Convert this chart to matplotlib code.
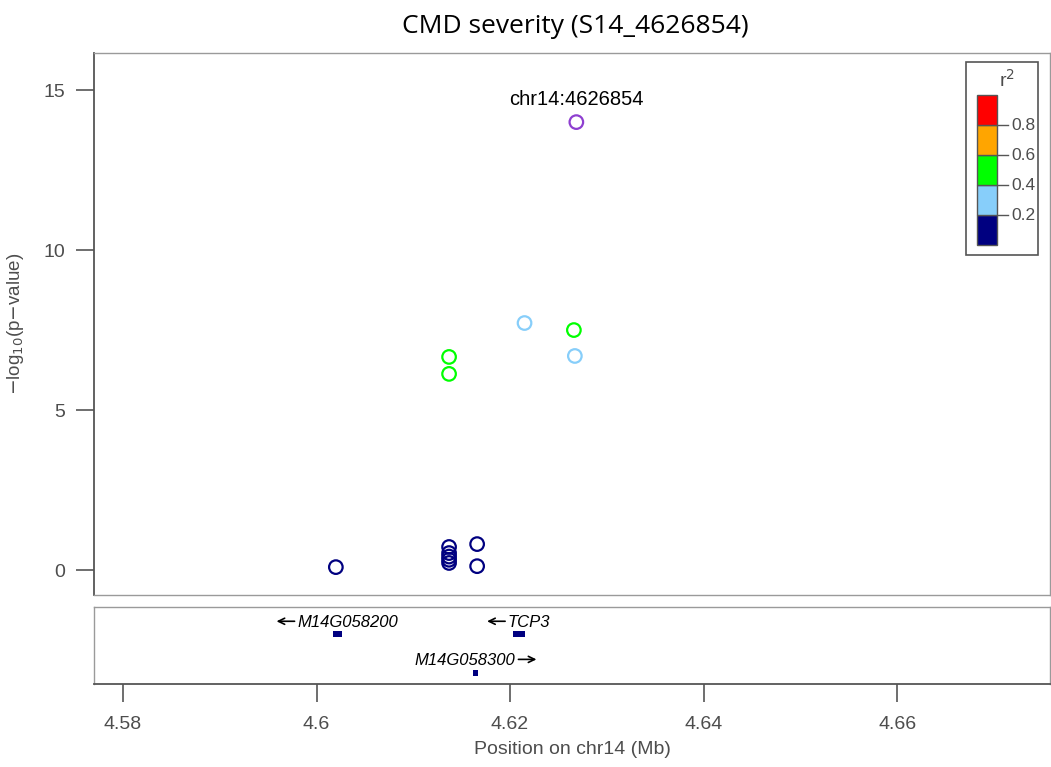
import matplotlib
matplotlib.use("Agg")
import matplotlib.pyplot as plt
from matplotlib.patches import Rectangle
from matplotlib.text import OffsetFrom
from matplotlib.transforms import ScaledTranslation

plt.rcParams['font.family'] = ['Liberation Sans', 'DejaVu Sans']

# SNP association data (position in Mb, -log10 p, LD class)
snp_pos = [4.626854, 4.6215, 4.6266, 4.6137, 4.6267, 4.6137,
           4.6020, 4.6166, 4.6166, 4.6137, 4.6137, 4.6137, 4.6137, 4.6137]
snp_logp = [14.0, 7.72, 7.50, 6.66, 6.69, 6.13,
            0.09, 0.81, 0.12, 0.72, 0.53, 0.42, 0.32, 0.22]
snp_r2 = ['lead', 0.3, 0.5, 0.5, 0.3, 0.5,
          0.1, 0.1, 0.1, 0.1, 0.1, 0.1, 0.1, 0.1]
lead_label = "chr14:4626854"

# LD colour bins
r2_breaks = [0.0, 0.2, 0.4, 0.6, 0.8, 1.0]
r2_colors = ['#000080', '#87CEFA', '#00FF00', '#FFA500', '#FF0000']
lead_color = '#8E3FD0'

# Genes: name, start, end, strand, row
gene_names = ['M14G058200', 'TCP3', 'M14G058300']
gene_start = [4.6017, 4.6203, 4.6162]
gene_end = [4.6026, 4.6215, 4.6167]
gene_strand = ['-', '-', '+']
gene_row = [0, 0, 1]

x_ticks = [4.58, 4.60, 4.62, 4.64, 4.66]
x_tick_labels = ['4.58', '4.6', '4.62', '4.64', '4.66']
y_ticks = [0, 5, 10, 15]

xlim = (4.577, 4.6758)
text_gray = '#4d4d4d'
frame_gray = '#9a9a9a'

fig = plt.figure(figsize=(10.51, 7.67), dpi=100)
ax = fig.add_axes([0.0894, 0.2243, 0.9096, 0.7066])
axg = fig.add_axes([0.0894, 0.1082, 0.9096, 0.1004])


def r2_color(v):
    if v == 'lead':
        return lead_color
    for i in range(len(r2_colors)):
        if r2_breaks[i] <= v < r2_breaks[i + 1]:
            return r2_colors[i]
    return r2_colors[-1]


colors = [r2_color(v) for v in snp_r2]
ax.scatter(snp_pos, snp_logp, s=95, facecolors='none', edgecolors=colors,
           linewidths=1.6, zorder=3)
ax.text(snp_pos[0], snp_logp[0] + 0.4, lead_label, ha='center', va='bottom',
        fontsize=14.5, color='black')

ax.set_xlim(*xlim)
ax.set_ylim(-0.78, 16.16)
ax.set_xticks([])
ax.set_yticks(y_ticks)
ax.set_yticklabels([str(t) for t in y_ticks], fontsize=14, color=text_gray)
ax.tick_params(axis='y', length=13, width=1.2, color='#555555', pad=8)
for s in ax.spines.values():
    s.set_color(frame_gray)
    s.set_linewidth(1)
ax.spines['left'].set_color('#555555')
ax.spines['left'].set_linewidth(1.3)
ax.set_ylabel(r'$-$log$_{10}$(p$-$value)', fontsize=13.5, color=text_gray,
              labelpad=12)

fig.text(575 / 1051, 0.965, 'CMD severity (S14_4626854)', ha='center',
         va='center', fontsize=19, family='Open Sans', color='black')

# r^2 legend box with colour bar
lx0, ly0 = 966 / 1051, 1 - 255 / 767
lw, lh = 72 / 1051, 193 / 767
fig.patches.append(Rectangle((lx0, ly0), lw, lh, transform=fig.transFigure,
                             facecolor='white', edgecolor='#555555', lw=1.2,
                             zorder=5))
cb_x0 = 977 / 1051
cb_w = 20 / 1051
seg_h = 30 / 767
cb_y0 = 1 - 245 / 767
for i, c in enumerate(r2_colors):
    fig.patches.append(Rectangle((cb_x0, cb_y0 + i * seg_h), cb_w, seg_h,
                                 transform=fig.transFigure, facecolor=c,
                                 edgecolor='#555555', lw=1, zorder=6))
for i, b in enumerate(r2_breaks[1:-1]):
    yy = cb_y0 + (i + 1) * seg_h
    fig.lines.append(plt.Line2D([cb_x0 + cb_w, cb_x0 + cb_w + 11 / 1051],
                                [yy, yy], transform=fig.transFigure,
                                color='#555555', lw=1, zorder=6))
    fig.text(cb_x0 + cb_w + 14 / 1051, yy, f'{b:.1f}', ha='left',
             va='center', fontsize=12.5, color=text_gray, zorder=7)
fig.text(1007 / 1051, 1 - 80 / 767, r'r$^2$', ha='center', va='center',
         fontsize=14, color=text_gray, zorder=7)

# Gene track: boxes, italic names and strand arrows
row_y = [0.65, 0.143]
label_y = [0.805, 0.31]
arrow_pt = 13.0   # arrow length in points
gap_pt = 2.0
for name, st, en, strand, row in zip(gene_names, gene_start, gene_end,
                                     gene_strand, gene_row):
    axg.add_patch(Rectangle((st, row_y[row] - 0.04), en - st, 0.08,
                            facecolor='#000080', edgecolor='none'))
    mid = (st + en) / 2
    shift = (arrow_pt + gap_pt) / 2 * (1 if strand == '-' else -1)
    tr = axg.transData + ScaledTranslation(shift / 72, 0,
                                           fig.dpi_scale_trans)
    txt = axg.text(mid, label_y[row], name, ha='center', va='center',
                   fontsize=12, style='italic', color='black', transform=tr)
    if strand == '-':
        ref = OffsetFrom(txt, (0, 0.55))
        head, tail = (-gap_pt - arrow_pt, 0), (-gap_pt, 0)
    else:
        ref = OffsetFrom(txt, (1, 0.55))
        head, tail = (gap_pt + arrow_pt, 0), (gap_pt, 0)
    axg.annotate('', xy=head, xycoords=ref, xytext=tail, textcoords=ref,
                 arrowprops=dict(arrowstyle='->,head_length=0.45,'
                                 'head_width=0.22', lw=1.2, color='black',
                                 shrinkA=0, shrinkB=0))

axg.set_xlim(*xlim)
axg.set_ylim(0, 1)
axg.set_yticks([])
axg.set_xticks(x_ticks)
axg.set_xticklabels(x_tick_labels, fontsize=14, color=text_gray)
axg.tick_params(axis='x', length=13, width=1.2, color='#555555', pad=10)
for s in axg.spines.values():
    s.set_color(frame_gray)
    s.set_linewidth(1)
axg.spines['bottom'].set_color('#555555')
axg.spines['bottom'].set_linewidth(1.3)
axg.set_xlabel('Position on chr14 (Mb)', fontsize=14, color=text_gray,
               labelpad=6)

fig.savefig('out.png', dpi=100)
